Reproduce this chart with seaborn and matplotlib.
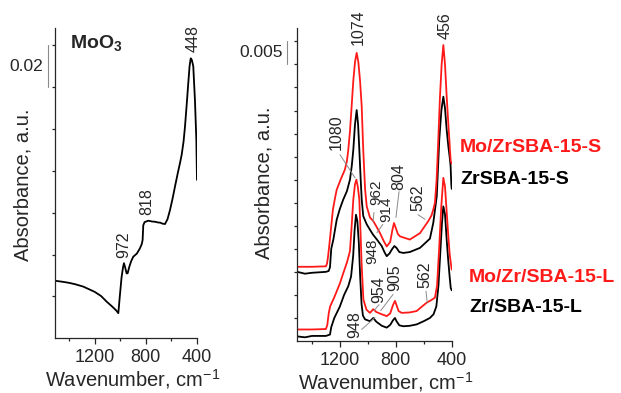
import matplotlib
matplotlib.use('Agg')
import matplotlib.pyplot as plt
import matplotlib.transforms as mtransforms
import seaborn as sns
import pandas as pd

# ---------------- data ----------------
moo3_wn = [1510, 1450, 1400, 1350, 1289, 1200, 1150, 1106, 1060, 1030, 1015, 1005, 990, 978, 971,
           962, 950, 942, 930, 915, 898, 870, 846, 832, 825, 820, 810, 781, 750, 728, 700, 689,
           670, 650, 630, 611, 590, 572, 550, 533, 520, 505, 494, 480, 468, 458, 449, 440, 429,
           416, 405, 400]
moo3_abs = [0.0275, 0.0270, 0.0265, 0.0258, 0.0247, 0.0222, 0.0202, 0.0175, 0.0150, 0.0132, 0.0120,
            0.0190, 0.0290, 0.0340, 0.0359, 0.0340, 0.0310, 0.0311, 0.0340, 0.0368, 0.0390, 0.0405,
            0.0430, 0.0450, 0.0470, 0.0540, 0.0555, 0.0562, 0.0558, 0.0557, 0.0553, 0.0553, 0.0548,
            0.0546, 0.0570, 0.0613, 0.0670, 0.0725, 0.0790, 0.0837, 0.0876, 0.0940, 0.1010, 0.1120,
            0.1220, 0.1300, 0.1338, 0.1330, 0.1300, 0.1140, 0.0950, 0.0757]

mozr_s_wn = [1505, 1400, 1300, 1292, 1284, 1275, 1265, 1250, 1235, 1223, 1195, 1164, 1150, 1140,
             1128, 1116, 1104, 1092, 1080, 1068, 1056, 1044, 1033, 1020, 1008, 985, 961, 940, 913,
             885, 865, 840, 825, 813, 800, 785, 770, 700, 627, 568, 545, 532, 520, 508, 496, 484,
             472, 460, 448, 436, 425, 417, 412, 407, 400]
mozr_s_abs = [0.0161, 0.0161, 0.0162, 0.0168, 0.0185, 0.0210, 0.0240, 0.0285, 0.0310, 0.0328,
              0.0350, 0.0372, 0.0390, 0.0415, 0.0455, 0.0509, 0.0565, 0.0605, 0.0625, 0.0605,
              0.0565, 0.0509, 0.0415, 0.0330, 0.0292, 0.0268, 0.0260, 0.0249, 0.0234, 0.0216,
              0.0205, 0.0215, 0.0240, 0.0256, 0.0245, 0.0232, 0.0227, 0.0220, 0.0234, 0.0260,
              0.0272, 0.0285, 0.0300, 0.0350, 0.0437, 0.0530, 0.0600, 0.0642, 0.0600, 0.0530,
              0.0475, 0.0437, 0.0411, 0.0390, 0.0385]

zr_s_wn = [1505, 1450, 1400, 1300, 1280, 1271, 1262, 1247, 1223, 1200, 1176, 1150, 1128, 1115,
           1104, 1092, 1080, 1070, 1061, 1052, 1044, 1033, 1008, 972, 961, 930, 901, 880, 865,
           845, 825, 810, 795, 775, 746, 700, 627, 556, 532, 507, 489, 474, 460, 448, 436, 424,
           415, 408, 403, 400]
zr_s_abs = [0.0150, 0.0146, 0.0148, 0.0150, 0.0152, 0.0160, 0.0200, 0.0220, 0.0263, 0.0287,
            0.0307, 0.0325, 0.0350, 0.0380, 0.0415, 0.0470, 0.0501, 0.0470, 0.0415, 0.0355,
            0.0307, 0.0271, 0.0253, 0.0235, 0.0230, 0.0218, 0.0206, 0.0192, 0.0184, 0.0190,
            0.0200, 0.0206, 0.0202, 0.0193, 0.0191, 0.0193, 0.0202, 0.0222, 0.0256, 0.0314,
            0.0437, 0.0500, 0.0530, 0.0505, 0.0458, 0.0422, 0.0400, 0.0380, 0.0340, 0.0330]

mozr_l_wn = [1505, 1400, 1300, 1290, 1280, 1270, 1240, 1200, 1175, 1150, 1128, 1116, 1104, 1092,
             1082, 1072, 1061, 1054, 1045, 1032, 1010, 985, 961, 940, 901, 865, 840, 820, 806,
             795, 780, 758, 700, 651, 580, 550, 520, 505, 490, 475, 460, 448, 436, 425, 415, 407,
             400]
mozr_l_abs = [0.0025, 0.0025, 0.0026, 0.0035, 0.0060, 0.0075, 0.0095, 0.0125, 0.0148, 0.0170,
              0.0195, 0.0249, 0.0307, 0.0340, 0.0350, 0.0335, 0.0307, 0.0249, 0.0170, 0.0090,
              0.0068, 0.0061, 0.0069, 0.0063, 0.0058, 0.0054, 0.0060, 0.0078, 0.0087, 0.0078,
              0.0065, 0.0061, 0.0062, 0.0065, 0.0083, 0.0088, 0.0094, 0.0120, 0.0200, 0.0290,
              0.0354, 0.0335, 0.0280, 0.0230, 0.0190, 0.0170, 0.0155]

zr_l_wn = [1505, 1450, 1400, 1300, 1271, 1262, 1240, 1200, 1170, 1140, 1120, 1105, 1095, 1085,
           1075, 1065, 1055, 1045, 1035, 1020, 985, 961, 940, 900, 865, 840, 820, 806, 795, 775,
           746, 700, 651, 600, 556, 530, 510, 495, 482, 470, 460, 448, 436, 425, 415, 407, 400]
zr_l_abs = [0.0010, 0.0008, 0.0011, 0.0011, 0.0014, 0.0030, 0.0050, 0.0075, 0.0100, 0.0119,
            0.0140, 0.0185, 0.0240, 0.0274, 0.0260, 0.0215, 0.0140, 0.0080, 0.0055, 0.0047,
            0.0043, 0.0050, 0.0042, 0.0033, 0.0029, 0.0035, 0.0045, 0.0050, 0.0043, 0.0034,
            0.0032, 0.0033, 0.0036, 0.0043, 0.0050, 0.0058, 0.0075, 0.0120, 0.0190, 0.0255,
            0.0292, 0.0275, 0.0220, 0.0175, 0.0140, 0.0115, 0.0110]

series_names = ["Mo/ZrSBA-15-S", "ZrSBA-15-S", "Mo/Zr/SBA-15-L", "Zr/SBA-15-L"]
xtick_major = [1200, 800, 400]
xtick_minor = [1400, 1000, 600]

for a, b in [(moo3_wn, moo3_abs), (mozr_s_wn, mozr_s_abs), (zr_s_wn, zr_s_abs),
             (mozr_l_wn, mozr_l_abs), (zr_l_wn, zr_l_abs)]:
    assert len(a) == len(b), (len(a), len(b))

# ---------------- style ----------------
sns.set_style("ticks")
plt.rcParams['font.family'] = ['Liberation Sans', 'DejaVu Sans']
plt.rcParams['mathtext.fontset'] = 'custom'
plt.rcParams['mathtext.rm'] = 'Liberation Sans'
plt.rcParams['mathtext.it'] = 'Liberation Sans:italic'
plt.rcParams['mathtext.bf'] = 'Liberation Sans:bold'

RED = '#ff1a1a'
GRAY = '#8a8a8a'

fig = plt.figure(figsize=(6.21, 3.93), dpi=100)
ax1 = fig.add_axes([0.0886, 0.1392, 0.2286, 0.7896])
ax2 = fig.add_axes([0.4787, 0.1323, 0.2487, 0.7965])

df_moo3 = pd.DataFrame({'wn': moo3_wn, 'abs': moo3_abs})
sns.lineplot(data=df_moo3, x='wn', y='abs', color='black', lw=1.3, ax=ax1, sort=False, estimator=None)

for wn, ab, col in [(zr_l_wn, zr_l_abs, 'black'), (mozr_l_wn, mozr_l_abs, RED),
                    (zr_s_wn, zr_s_abs, 'black'), (mozr_s_wn, mozr_s_abs, RED)]:
    d = pd.DataFrame({'wn': wn, 'abs': ab})
    sns.lineplot(data=d, x='wn', y='abs', color=col, lw=1.3, ax=ax2, sort=False, estimator=None)

ax1.set_xlim(1510, 400)
ax1.set_ylim(0, 0.1483)
ax2.set_xlim(1505, 400)
ax2.set_ylim(0, 0.0679)

for ax, ystep, ytop in [(ax1, 0.02, 0.145), (ax2, 0.005, 0.066)]:
    sns.despine(ax=ax)
    ax.spines['left'].set_linewidth(0.9)
    ax.spines['bottom'].set_linewidth(0.9)
    ax.set_xticks(xtick_major)
    ax.set_xticks(xtick_minor, minor=True)
    ax.set_xticklabels([str(v) for v in xtick_major], fontsize=13)
    yt = []
    v = ystep
    while v < ytop:
        yt.append(round(v, 4))
        v += ystep
    ax.set_yticks(yt)
    ax.set_yticklabels([])
    ax.tick_params(axis='x', which='major', length=4, width=0.9, pad=4)
    ax.tick_params(axis='x', which='minor', length=2.2, width=0.9)
    ax.tick_params(axis='y', which='major', length=2.5, width=0.9)
    ax.set_ylabel('Absorbance, a.u.', fontsize=14.5)
    ax.set_xlabel('Wavenumber, cm$^{-1}$', fontsize=14.5)

ax1.yaxis.set_label_coords(-0.162, 0.494)
ax2.yaxis.set_label_coords(-0.155, 0.506)
ax1.xaxis.set_label_coords(0.55, -0.092)
ax2.xaxis.set_label_coords(0.575, -0.092)

# scale bars
tr1 = mtransforms.blended_transform_factory(ax1.transAxes, ax1.transData)
ax1.plot([-0.049, -0.049], [0.12, 0.14], transform=tr1, color=GRAY, lw=0.8, clip_on=False)
ax1.text(-0.0845, 0.13, '0.02', transform=tr1, ha='right', va='center', fontsize=12.5)
tr2 = mtransforms.blended_transform_factory(ax2.transAxes, ax2.transData)
ax2.plot([-0.069, -0.069], [0.060, 0.065], transform=tr2, color=GRAY, lw=0.8, clip_on=False)
ax2.text(-0.0926, 0.0625, '0.005', transform=tr2, ha='right', va='center', fontsize=12.5)

# left panel annotations
ax1.text(0.106, 0.95, 'MoO$_{\\mathbf{3}}$', transform=ax1.transAxes, fontsize=14,
         fontweight='bold', ha='left', va='center')
for t, x, y in [('448', 430, 0.137), ('818', 793, 0.0589), ('972', 976, 0.0384)]:
    ax1.text(x, y, t, rotation=90, ha='center', va='bottom', fontsize=11.5)

# right panel annotations: label, x, y, font size, leader line
ann = [
    ('1074', 1070, 0.0643, 11.5, None),
    ('456', 448, 0.0655, 11.5, None),
    ('1080', 1223, 0.0415, 11.5, (1199, 0.0404, 1092, 0.0354)),
    ('962', 943, 0.0296, 11, (956, 0.0279, 963, 0.0259)),
    ('914', 869, 0.0259, 11, (893, 0.0253, 935, 0.0235)),
    ('804', 777, 0.0328, 11.5, (777, 0.0324, 799, 0.0268)),
    ('562', 639, 0.0281, 11.5, (641, 0.0274, 591, 0.0264)),
    ('948', 968, 0.0166, 11, None),
    ('954', 925, 0.0083, 11.5, (920, 0.0079, 956, 0.0066)),
    ('905', 806, 0.0108, 11.5, (820, 0.0101, 908, 0.0066)),
    ('562', 591, 0.0116, 11.5, (584, 0.0108, 575, 0.0083)),
    ('948', 1092, 0.0007, 11.5, (1044, 0.0025, 949, 0.0051)),
]
for t, x, y, fs, line in ann:
    ax2.text(x, y, t, rotation=90, ha='center', va='bottom', fontsize=fs, clip_on=False)
    if line is not None:
        ax2.plot([line[0], line[2]], [line[1], line[3]], color=GRAY, lw=0.7)

# series labels
fig.text(460 / 621, 1 - 147 / 393, series_names[0], color=RED, fontsize=14, fontweight='bold', va='center')
fig.text(460 / 621, 1 - 179 / 393, series_names[1], color='black', fontsize=14, fontweight='bold', va='center')
fig.text(469 / 621, 1 - 277 / 393, series_names[2], color=RED, fontsize=14, fontweight='bold', va='center')
fig.text(469 / 621, 1 - 307 / 393, series_names[3], color='black', fontsize=14, fontweight='bold', va='center')

fig.savefig('out.png', dpi=100)
